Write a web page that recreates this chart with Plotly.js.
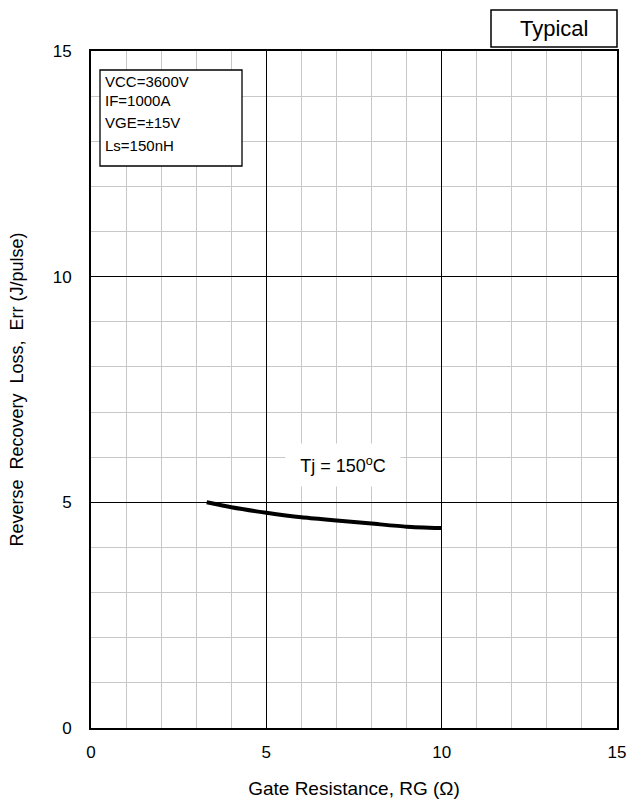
<!DOCTYPE html>
<html>
<head>
<meta charset="utf-8">
<script src="https://cdn.plot.ly/plotly-3.0.1.min.js"></script>
<style>html,body{margin:0;padding:0;background:#fff;}#chart{width:630px;height:808px;}</style>
</head>
<body>
<div id="chart"></div>
<script>
// Data
const rg = [3.3, 4, 5, 6, 7, 8, 9, 10];
const err = [5.0, 4.89, 4.77, 4.67, 4.60, 4.53, 4.46, 4.43];
const xTicks = [0, 5, 10, 15];
const yTicks = [0, 5, 10, 15];
const conditions = ["VCC=3600V", "IF=1000A", "VGE=±15V", "Ls=150nH"];
const curveLabel = "Tj = 150<sup>o</sup>C";

const F = "Liberation Sans, Arial, sans-serif";

const condY = [82, 101, 122, 145];
const annotations = conditions.map((t, i) => ({
  xref: 'paper', yref: 'paper',
  x: (103 - 91) / 526, y: (728 - condY[i]) / 677,
  xanchor: 'left', yanchor: 'middle',
  text: t, showarrow: false,
  font: {family: F, size: 15, color: '#000'}
}));
annotations.push({
  xref: 'paper', yref: 'paper',
  x: (554 - 91) / 526, y: (728 - 29) / 677,
  xanchor: 'center', yanchor: 'middle',
  text: 'Typical', showarrow: false,
  font: {family: F, size: 22, color: '#000'}
});
annotations.push({
  xref: 'x', yref: 'y',
  x: 7.18, y: 5.83,
  text: curveLabel, showarrow: false,
  bgcolor: '#fff', width: 112, height: 40,
  font: {family: F, size: 18, color: '#000'}
});

const shapes = [
  {type: 'rect', xref: 'paper', yref: 'paper',
   x0: (100 - 91) / 526, x1: (242 - 91) / 526,
   y0: (728 - 166) / 677, y1: (728 - 70) / 677,
   line: {color: '#000', width: 1.3}, fillcolor: '#fff', layer: 'above'},
  {type: 'rect', xref: 'paper', yref: 'paper',
   x0: (491 - 91) / 526, x1: 1.0,
   y0: (728 - 47) / 677, y1: (728 - 10) / 677,
   line: {color: '#000', width: 1.5}, fillcolor: 'rgba(0,0,0,0)'}
];

const trace = {
  x: rg, y: err, type: 'scatter', mode: 'lines',
  line: {color: '#000', width: 4, shape: 'spline', smoothing: 0.6},
  hoverinfo: 'skip', showlegend: false
};

const axisCommon = {
  showline: true, mirror: true, linecolor: '#000', linewidth: 2,
  showgrid: true, gridcolor: '#000', gridwidth: 1,
  zeroline: false, ticks: '',
  tickfont: {family: F, size: 17, color: '#000'},
  minor: {dtick: 1, showgrid: true, gridcolor: '#c8c8c8', gridwidth: 1}
};

const layout = {
  width: 630, height: 808,
  margin: {l: 91, r: 13, t: 51, b: 80},
  paper_bgcolor: '#fff', plot_bgcolor: '#fff',
  showlegend: false,
  xaxis: Object.assign({}, axisCommon, {
    range: [0, 15], tickvals: xTicks, ticktext: xTicks.map(String),
    ticklabelstandoff: 8,
    title: {text: 'Gate Resistance, RG (Ω)', font: {family: F, size: 19, color: '#000'}, standoff: 20}
  }),
  yaxis: Object.assign({}, axisCommon, {
    range: [0, 15], tickvals: yTicks, ticktext: yTicks.map(String),
    ticklabelstandoff: 14,
    title: {text: 'Reverse  Recovery  Loss,  Err (J/pulse)', font: {family: F, size: 18, color: '#000'}, standoff: 24}
  }),
  annotations: annotations,
  shapes: shapes
};

Plotly.newPlot('chart', [trace], layout, {displayModeBar: false, staticPlot: true});
</script>
</body>
</html>
